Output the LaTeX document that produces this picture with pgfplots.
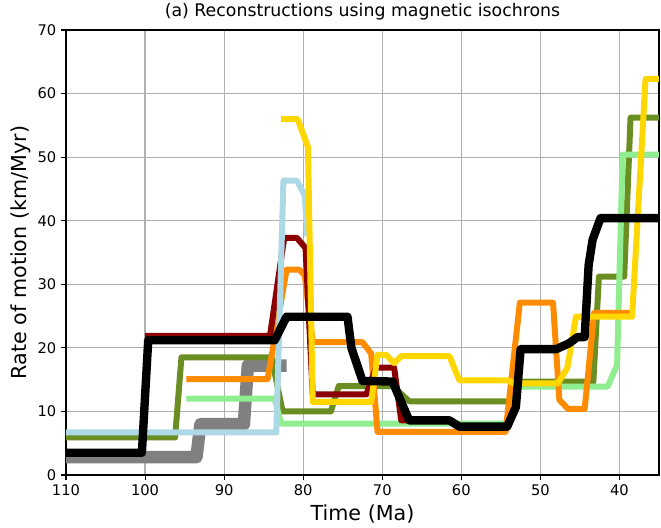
\documentclass[border=0pt]{standalone}
\usepackage{fontspec}
\setmainfont{DejaVu Sans}
\usepackage{pgfplots}
\pgfplotsset{compat=1.18}

\definecolor{cgray}{HTML}{808080}
\definecolor{colive}{HTML}{6B8E23}
\definecolor{clgreen}{HTML}{90EE90}
\definecolor{corange}{HTML}{FF8C00}
\definecolor{cdred}{HTML}{8B0000}
\definecolor{cgold}{HTML}{FFD700}
\definecolor{clblue}{HTML}{ADD8E6}
\definecolor{cgrid}{HTML}{B0B0B0}

\begin{document}
\begin{tikzpicture}
\begin{axis}[
    scale only axis,
    width=444.75pt,
    height=333.75pt,
    x dir=reverse,
    xmin=35, xmax=110,
    ymin=0, ymax=70,
    xtick={40,50,...,110},
    ytick={0,10,...,70},
    tick align=outside,
    tick pos=left,
    major tick length=3.75pt,
    every tick/.style={black, line width=0.8pt},
    axis line style={line width=0.9pt},
    xmajorgrids=true,
    ymajorgrids=true,
    grid style={cgrid, line width=0.9pt},
    /pgf/number format/assume math mode=true,
    ticklabel style={font=\fontsize{11}{13}\selectfont},
    title={(a) Reconstructions using magnetic isochrons},
    title style={font=\fontsize{13}{15}\selectfont, yshift=-2pt},
    xlabel={Time (Ma)},
    ylabel={Rate of motion (km/Myr)},
    ylabel style={yshift=-2pt},
    label style={font=\fontsize{15.5}{18}\selectfont},
    every axis plot/.append style={line join=round, line cap=rect, line width=4.5pt},
]
% gray
\addplot[cgray, line width=9.4pt] coordinates {
(111,2.8)(93.5,2.8)(93,8)(87.5,8)(87,17.2)(82.9,17.2)};
% olive
\addplot[colive] coordinates {
(111,5.9)(96.2,5.9)(95.4,18.5)(84,18.5)(82.6,10)(76.5,10)(75.5,14)
(68.7,14)(66.6,11.6)(53.7,11.6)(52.6,14.7)(43.3,14.7)(42.6,31.2)
(39.4,31.2)(38.6,56.2)(34,56.2)};
% light green
\addplot[clgreen] coordinates {
(94.4,12)(83.6,12)(82.8,8.1)(54.4,8.1)(52.7,13.9)(41.5,13.9)(40.3,17.3)
(39.6,50.4)(34,50.4)};
% orange
\addplot[corange] coordinates {
(94.4,15.1)(84.5,15.1)(82.1,32.3)(80.5,32.3)(79.8,31.4)(78.8,20.9)
(72.5,20.9)(71.4,19.1)(70.6,6.8)(61.1,6.8)(54.4,6.8)(52.6,27.1)
(48.4,27.1)(47.6,11.8)(46.5,10.4)(44.4,10.4)(43.2,25.5)(38.8,25.5)};
% dark red
\addplot[cdred] coordinates {
(99.6,21.9)(84.2,21.9)(82.4,37.3)(80.8,37.3)(79.7,35.7)(78.8,12.7)
(72,12.7)(70.8,16.9)(68.5,16.9)(67.6,8.6)(66.8,8.6)};
% light blue
\addplot[clblue] coordinates {
(111,6.7)(83.4,6.7)(82.5,46.3)(80.8,46.3)(79.8,44)(79.5,38)};
% gold
\addplot[cgold] coordinates {
(82.4,56)(80.7,56)(79.4,51.6)(78.8,11.5)(71.4,11.5)(70.6,18.9)(69.5,18.9)
(68.5,17.6)(67.6,18.7)(61.5,18.7)(60.25,14.9)(54.2,14.9)(53.3,14.4)
(47.8,14.4)(46.6,16.8)(45.5,24.9)(38.4,24.9)(36.7,62.3)(34,62.3)};
% black
\addplot[black, line width=6.3pt] coordinates {
(111,3.5)(100.4,3.5)(99.6,21.2)(83.6,21.2)(82.1,24.9)(74.4,24.9)
(73.9,20)(72.5,14.8)(68.7,14.7)(66.6,8.6)(61.5,8.6)(60.25,7.6)
(54.2,7.6)(53.1,10.7)(52.5,19.8)(48,19.8)(46.4,20.7)(45.3,21.7)
(44.4,21.7)(43.9,33)(43.4,37)(42.4,40.4)(34,40.4)};
\end{axis}
\pgfresetboundingbox
\path ([shift={(-49.5pt,-39pt)}]current axis.south west) rectangle ([shift={(1.5pt,22.5pt)}]current axis.north east);
\end{tikzpicture}
\end{document}
